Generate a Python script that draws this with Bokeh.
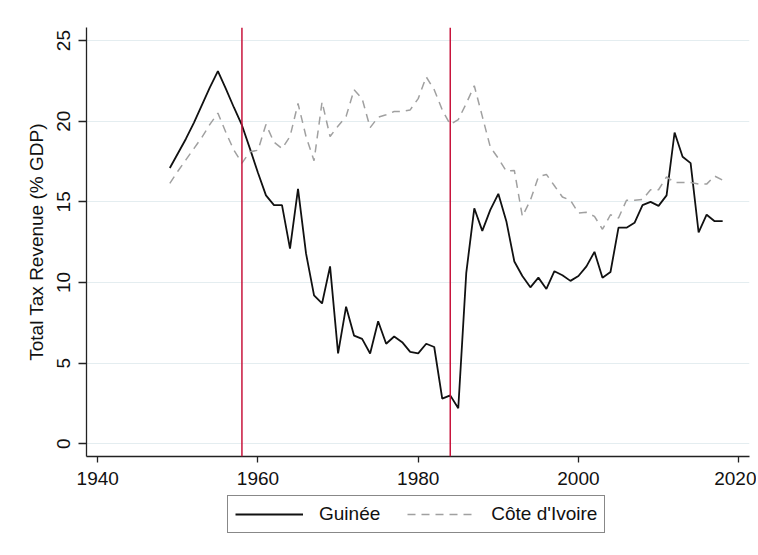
from bokeh.plotting import figure
from bokeh.models import Span, Legend, LegendItem, FixedTicker, Range1d
from bokeh.layouts import column
from bokeh.embed import file_html
from bokeh.resources import INLINE

years = list(range(1949, 2019))
guinee = [17.1, 18.0, 18.9, 19.9, 21.0, 22.1, 23.1, 22.0, 20.85, 19.75,
          18.3, 16.8, 15.4, 14.8, 14.8, 12.1, 15.8, 11.8, 9.2, 8.7,
          11.0, 5.6, 8.5, 6.7, 6.5, 5.6, 7.6, 6.2, 6.65, 6.3,
          5.7, 5.6, 6.2, 6.0, 2.8, 3.0, 2.2, 10.6, 14.6, 13.2,
          14.5, 15.5, 13.8, 11.3, 10.4, 9.7, 10.3, 9.6, 10.7, 10.45,
          10.1, 10.4, 11.0, 11.9, 10.3, 10.65, 13.4, 13.4, 13.7, 14.8,
          15.0, 14.75, 15.4, 19.3, 17.8, 17.4, 13.1, 14.2, 13.8, 13.8]
cote = [16.15, 16.9, 17.6, 18.3, 19.0, 19.8, 20.5, 19.3, 18.2, 17.4,
        18.1, 18.2, 19.8, 18.7, 18.3, 19.05, 21.1, 19.05, 17.55, 21.2,
        19.05, 19.7, 20.3, 21.95, 21.4, 19.6, 20.25, 20.4, 20.6, 20.6,
        20.7, 21.4, 22.75, 21.95, 20.7, 19.8, 20.1, 21.1, 22.2, 20.3,
        18.4, 17.7, 16.9, 16.95, 14.1, 15.1, 16.55, 16.7, 16.0, 15.3,
        15.1, 14.3, 14.35, 14.1, 13.3, 14.2, 14.0, 15.1, 15.1, 15.15,
        15.75, 15.75, 16.55, 16.2, 16.2, 16.2, 16.1, 16.1, 16.6, 16.35]
event_years = [1958, 1984]
x_ticks = [1940, 1960, 1980, 2000, 2020]
y_ticks = [0, 5, 10, 15, 20, 25]
series_names = ["Guinée", "Côte d'Ivoire"]
y_title = "Total Tax Revenue (% GDP)"

FONT = "Liberation Sans"
GUINEE_STYLE = dict(line_color="#111111", line_width=1.8)
COTE_STYLE = dict(line_color="#a0a0a0", line_width=1.5, line_dash="8 6")

p = figure(width=756, height=495, output_backend="svg", toolbar_location=None,
           x_range=Range1d(1938.6, 2021.35), y_range=Range1d(-0.79, 25.81),
           min_border_left=86, min_border_right=7, min_border_top=27, min_border_bottom=39,
           background_fill_color="white", border_fill_color="white")
p.outline_line_color = None

p.xgrid.visible = False
p.ygrid.grid_line_color = "#e4edf0"
p.ygrid.grid_line_width = 1.2

for ax in (p.xaxis[0], p.yaxis[0]):
    ax.axis_line_color = "#222222"
    ax.axis_line_width = 1.3
    ax.major_tick_line_color = "#222222"
    ax.major_tick_line_width = 1.3
    ax.minor_tick_line_color = None
    ax.major_tick_in = 0
    ax.major_label_text_font = FONT
    ax.major_label_text_font_size = "19px"
    ax.major_label_text_color = "#111111"
    ax.axis_label_text_font = FONT
    ax.axis_label_text_font_size = "19px"
    ax.axis_label_text_font_style = "normal"
    ax.axis_label_text_color = "#111111"

p.xaxis.ticker = FixedTicker(ticks=x_ticks)
p.yaxis.ticker = FixedTicker(ticks=y_ticks)
p.xaxis.major_tick_out = 6
p.yaxis.major_tick_out = 8
p.xaxis.major_label_standoff = 9
p.yaxis.major_label_standoff = 8
p.yaxis.major_label_orientation = "vertical"
p.yaxis.axis_label = y_title
p.yaxis.axis_label_standoff = 8

for yr in event_years:
    p.add_layout(Span(location=yr, dimension="height", line_color="#c8143c", line_width=1.5))

p.line(years, guinee, **GUINEE_STYLE)
p.line(years, cote, **COTE_STYLE)

# legend strip below the chart (its series lie outside its own ranges, only the key shows)
q = figure(width=756, height=60, output_backend="svg", toolbar_location=None,
           x_range=Range1d(0, 1), y_range=Range1d(0, 1),
           min_border_left=86, min_border_right=7, min_border_top=0, min_border_bottom=0,
           background_fill_color="white", border_fill_color="white")
q.outline_line_color = None
q.xaxis.visible = False
q.yaxis.visible = False
q.xgrid.visible = False
q.ygrid.visible = False
k1 = q.line(years, guinee, **GUINEE_STYLE)
k2 = q.line(years, cote, **COTE_STYLE)
legend = Legend(items=[LegendItem(label=series_names[0], renderers=[k1]),
                       LegendItem(label=series_names[1], renderers=[k2])],
                orientation="horizontal", location=(141, 22),
                glyph_width=68, glyph_height=20, label_standoff=16, spacing=27,
                padding=7, margin=0,
                label_text_font=FONT, label_text_font_size="19px", label_text_color="#111111",
                border_line_color="#111111", border_line_width=1.3,
                background_fill_color="white", background_fill_alpha=1.0)
q.add_layout(legend, "center")

layout = column(p, q, spacing=0)
open("out.html", "w").write(file_html(layout, INLINE))
